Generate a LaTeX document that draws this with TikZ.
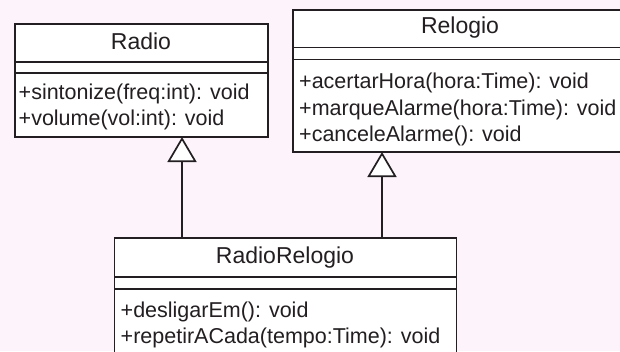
\documentclass[tikz,border=0pt]{standalone}
\usepackage{fontspec}
\setmainfont{Liberation Sans}
\usetikzlibrary{arrows.meta}
\definecolor{paper}{HTML}{FCF4FA}
\definecolor{ink}{HTML}{221E21}
\tikzset{
  classbox/.style={draw=ink, line width=1.7pt, fill=white, rectangle,
    anchor=north west, inner sep=0pt, outer sep=0pt},
  compartment/.style={draw=ink, line width=1.7pt},
  classname/.style={text=ink, anchor=base, inner sep=0pt,
    font=\fontsize{23}{27}\selectfont},
  member/.style={text=ink, anchor=base west, inner sep=0pt,
    font=\fontsize{21.5}{25}\selectfont},
  generalization/.style={draw=ink, line width=1.7pt,
    -{Triangle[open, length=25pt, width=29pt, fill=white]}},
}
\begin{document}
\begin{tikzpicture}[x=1pt, y=-1pt]
  \useasboundingbox (0,0) rectangle (620,351);
  \clip (0,0) rectangle (620,351);
  \fill[paper] (0,0) rectangle (620,351);

  % class Radio
  \node[classbox, minimum width=253pt, minimum height=113pt] (radio) at (15,24) {};
  \draw[compartment] (radio.west |- 0,62) -- (radio.east |- 0,62);
  \draw[compartment] (radio.west |- 0,73) -- (radio.east |- 0,73);
  \node[classname] (radio-name) at (141,49.5) {Radio};
  \node[member] (radio-m1) at (18.5,99) {+sintonize(freq:int): void};
  \node[member] (radio-m2) at (18.5,125) {+volume(vol:int): void};

  % class Relogio
  \node[classbox, minimum width=334pt, minimum height=142pt] (relogio) at (293,10) {};
  \draw[compartment] (relogio.west |- 0,47.5) -- (relogio.east |- 0,47.5);
  \draw[compartment] (relogio.west |- 0,59.5) -- (relogio.east |- 0,59.5);
  \node[classname] (relogio-name) at (460,33) {Relogio};
  \node[member] (relogio-m1) at (299,88.5) {+acertarHora(hora:Time): void};
  \node[member] (relogio-m2) at (299,115) {+marqueAlarme(hora:Time): void};
  \node[member] (relogio-m3) at (299,141) {+canceleAlarme(): void};

  % class RadioRelogio
  \node[classbox, minimum width=342pt, minimum height=142pt] (radiorelogio) at (114.5,238) {};
  \draw[compartment] (radiorelogio.west |- 0,277) -- (radiorelogio.east |- 0,277);
  \draw[compartment] (radiorelogio.west |- 0,289) -- (radiorelogio.east |- 0,289);
  \node[classname] (radiorelogio-name) at (285,263.5) {RadioRelogio};
  \node[member] (radiorelogio-m1) at (120.5,317) {+desligarEm(): void};
  \node[member] (radiorelogio-m2) at (120.5,343.5) {+repetirACada(tempo:Time): void};

  % generalizations
  \draw[generalization] (radiorelogio.north -| 182,0) -- (radio.south -| 182,0);
  \draw[generalization] (radiorelogio.north -| 382,0) -- (relogio.south -| 382,0);
\end{tikzpicture}
\end{document}
